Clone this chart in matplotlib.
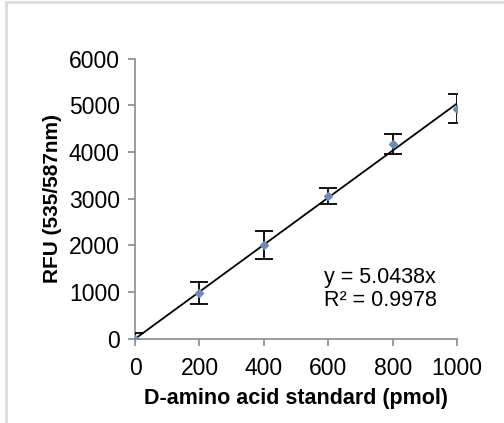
import numpy as np
import matplotlib.pyplot as plt
from matplotlib.lines import Line2D

plt.rcParams['font.family'] = ['Liberation Sans', 'DejaVu Sans']

# D-amino acid standard (pmol) vs fluorescence
pmol = [0, 200, 400, 600, 800, 1000]
rfu = [0, 980, 2010, 3060, 4170, 4930]
rfu_err = [130, 240, 290, 170, 220, 310]
slope = 5.0438
r2 = 0.9978

fig = plt.figure(figsize=(5.04, 4.23), dpi=100)
ax = fig.add_axes([0.268, 0.199, 0.639, 0.662])

# trendline through origin
xfit = np.array([0, 1000])
ax.plot(xfit, slope * xfit, color='black', lw=1.3, zorder=2)

ax.errorbar(pmol, rfu, yerr=rfu_err, fmt='D', ms=4.5, color='#6b8cb5',
            ecolor='black', elinewidth=1.3, capsize=6.5, capthick=1.3,
            zorder=3)

ax.set_xlim(0, 1000)
ax.set_ylim(0, 6000)
ax.set_xticks(range(0, 1001, 200))
ax.set_yticks(range(0, 6001, 1000))

for s in ['top', 'right']:
    ax.spines[s].set_visible(False)
for s in ['left', 'bottom']:
    ax.spines[s].set_color('#8a8a8a')
    ax.spines[s].set_linewidth(1.2)
ax.tick_params(axis='both', direction='out', length=5, width=1.2,
               color='#8a8a8a', labelsize=16.5)
ax.tick_params(axis='y', pad=6)
ax.tick_params(axis='x', pad=8)

ax.set_xlabel('D-amino acid standard (pmol)', fontsize=15.5, fontweight='bold',
              labelpad=6)
ax.set_ylabel('RFU (535/587nm)', fontsize=15, fontweight='bold', labelpad=5)

ax.text(0.587, 0.177, f'y = {slope}x\nR² = {r2}', transform=ax.transAxes,
        fontsize=15.5, ha='left', va='center', linespacing=1.15)

# light chart border (top and left visible)
fig.add_artist(Line2D([0.011, 0.011], [0, 0.995], transform=fig.transFigure,
                      color='#dcdcdc', lw=2))
fig.add_artist(Line2D([0.011, 1], [0.995, 0.995], transform=fig.transFigure,
                      color='#dcdcdc', lw=2))

fig.savefig('out.png', dpi=100)
